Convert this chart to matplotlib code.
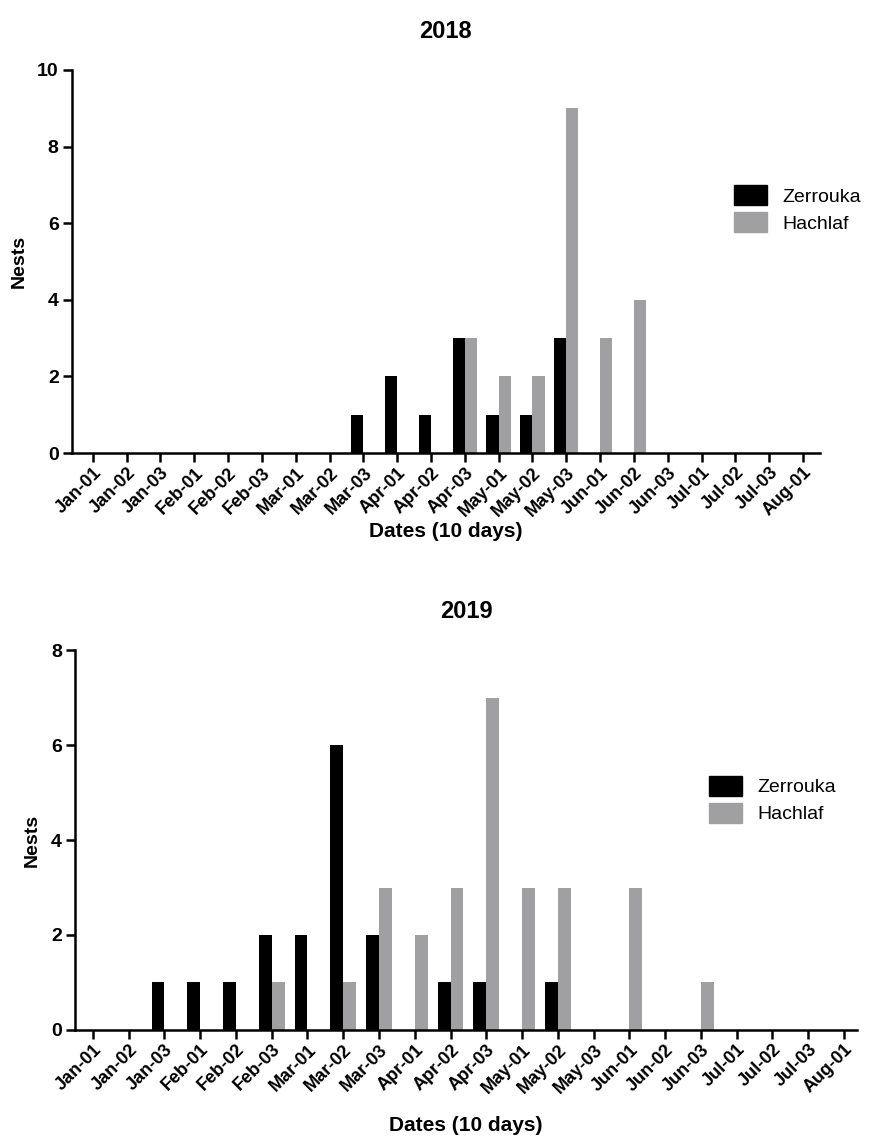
import matplotlib
matplotlib.use("Agg")
import matplotlib.pyplot as plt
import numpy as np
from matplotlib.patches import Patch

categories = ["Jan-01", "Jan-02", "Jan-03", "Feb-01", "Feb-02", "Feb-03",
              "Mar-01", "Mar-02", "Mar-03", "Apr-01", "Apr-02", "Apr-03",
              "May-01", "May-02", "May-03", "Jun-01", "Jun-02", "Jun-03",
              "Jul-01", "Jul-02", "Jul-03", "Aug-01"]

zerrouka_2018 = [0, 0, 0, 0, 0, 0, 0, 0, 1, 2, 1, 3, 1, 1, 3, 0, 0, 0, 0, 0, 0, 0]
hachlaf_2018 = [0, 0, 0, 0, 0, 0, 0, 0, 0, 0, 0, 3, 2, 2, 9, 3, 4, 0, 0, 0, 0, 0]

zerrouka_2019 = [0, 0, 1, 1, 1, 2, 2, 6, 2, 0, 1, 1, 0, 1, 0, 0, 0, 0, 0, 0, 0, 0]
hachlaf_2019 = [0, 0, 0, 0, 0, 1, 0, 1, 3, 2, 3, 7, 3, 3, 0, 3, 0, 1, 0, 0, 0, 0]

series_names = ["Zerrouka", "Hachlaf"]
colors = ["#000000", "#a0a0a2"]

plt.rcParams['font.family'] = ['Liberation Sans', 'DejaVu Sans']

fig = plt.figure(figsize=(8.76, 11.4), dpi=100)

def draw(ax, z, h, title, ymax, ystep, xlim, legend_anchor, xlabelpad):
    x = np.arange(len(categories))
    w = 0.36
    ax.bar(x - w / 2, z, width=w, color=colors[0], zorder=2)
    ax.bar(x + w / 2, h, width=w, color=colors[1], zorder=2)
    ax.set_xlim(*xlim)
    ax.set_ylim(0, ymax)
    ax.set_yticks(np.arange(0, ymax + 1, ystep))
    ax.set_xticks(x)
    ax.set_xticklabels(categories, rotation=45, ha='right', rotation_mode='anchor',
                       fontsize=13, fontweight='bold')
    for lab in ax.get_yticklabels():
        lab.set_fontweight('bold')
        lab.set_fontsize(14)
    for s in ['top', 'right']:
        ax.spines[s].set_visible(False)
    for s in ['left', 'bottom']:
        ax.spines[s].set_linewidth(1.8)
    ax.spines['left'].set_bounds(0, ymax)
    ax.tick_params(axis='both', direction='out', length=6.5, width=1.8, pad=3)
    ax.tick_params(axis='x', pad=1.5)
    ax.set_ylabel("Nests", fontsize=14, fontweight='bold', labelpad=7)
    ax.set_xlabel("Dates (10 days)", fontsize=15, fontweight='bold', labelpad=xlabelpad)
    ax.set_title(title, fontsize=17, fontweight='bold', pad=23)
    handles = [Patch(facecolor=colors[0], edgecolor=colors[0]),
               Patch(facecolor=colors[1], edgecolor=colors[1])]
    ax.legend(handles, series_names, loc='upper left', bbox_to_anchor=legend_anchor,
              frameon=False, handlelength=1.7, handleheight=1.2, handletextpad=0.8,
              labelspacing=0.35, borderaxespad=0,
              prop={'size': 14})

ax1 = fig.add_axes([0.082, 0.6026, 0.854, 0.336])
draw(ax1, zerrouka_2018, hachlaf_2018, "2018", 10, 2, (-0.62, 21.5), (0.875, 0.72), 2)

ax2 = fig.add_axes([0.0856, 0.0965, 0.893, 0.3333])
draw(ax2, zerrouka_2019, hachlaf_2019, "2019", 8, 2, (-0.5, 21.37), (0.80, 0.69), 14)

fig.savefig("out.png", dpi=100)
